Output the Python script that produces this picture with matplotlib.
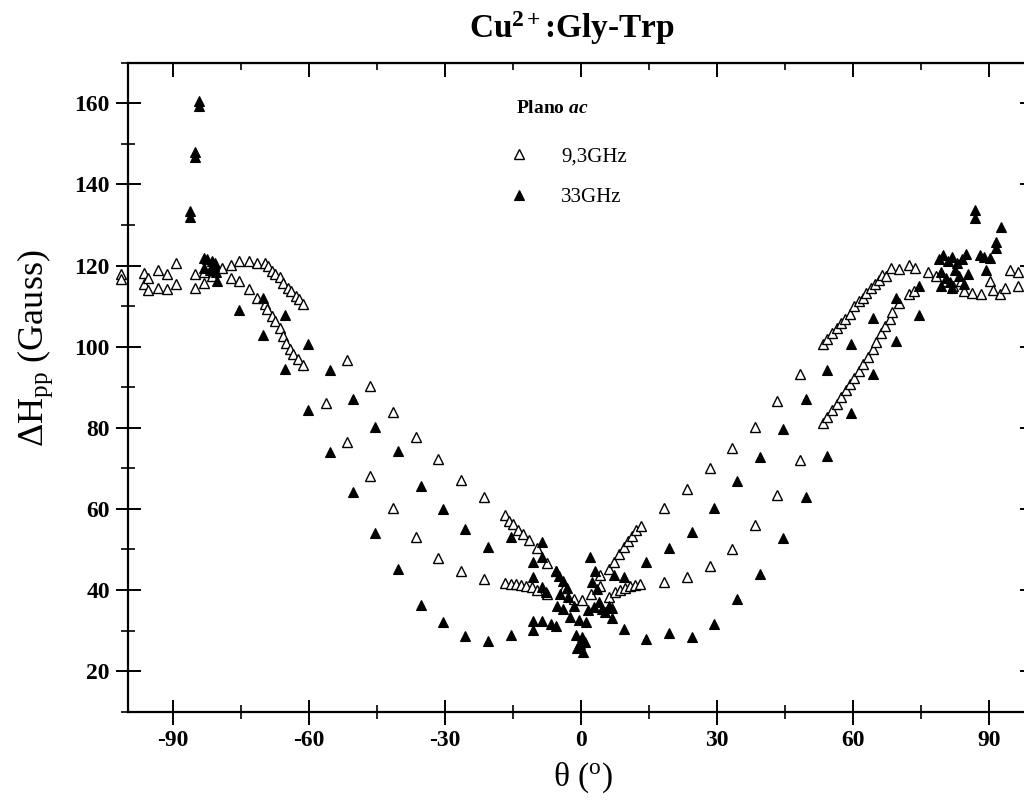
import numpy as np
import matplotlib
matplotlib.use("Agg")
import matplotlib.pyplot as plt
from matplotlib.ticker import MultipleLocator

plt.rcParams['font.family'] = ['Liberation Serif', 'DejaVu Serif']
plt.rcParams['mathtext.fontset'] = 'custom'
plt.rcParams['mathtext.rm'] = 'Liberation Serif'
plt.rcParams['mathtext.it'] = 'Liberation Serif:italic'
plt.rcParams['mathtext.bf'] = 'Liberation Serif:bold'
plt.rcParams['mathtext.bfit'] = 'Liberation Serif:italic:bold'

# 9,3 GHz line widths (open triangles), angle in degrees / width in Gauss
theta_x = [
    -101.5, -101.5,
    -96.4, -96.4, -95.5, -95.5, -93.4, -93.4, -91.5, -91.5, -89.3, -89.3,
    -85.3, -85.3, -83.3, -83.3, -81.5, -81.5, -79.3, -77.3, -77.3,
    -75.5, -75.5, -73.4, -73.4, -71.6, -71.6, -69.8, -69.8,
    # upper branch, -69 .. -61
    -69.1, -68.3, -67.6, -66.5, -65.8, -64.7, -64.0, -62.9, -62.2, -61.4,
    # lower branch, -69 .. -61
    -69.4, -68.3, -67.6, -66.5, -65.8, -65.1, -64.3, -63.6, -62.5, -61.4,
    # sparse angles
    -56.3, -51.6, -51.6, -46.5, -46.5, -41.4, -41.4, -36.4, -36.4,
    -31.5, -31.5, -26.6, -26.6, -21.5, -21.5,
    # around the minimum
    -16.7, -15.9, -15.0, -13.9, -12.7, -11.5, -9.7, -7.6, -5.6, -3.7, -1.6,
    -16.7, -15.5, -14.4, -13.3, -12.2, -10.9, -9.7, -7.6,
    0.2, 2.3, 4.3, 4.3,
    6.1, 7.2, 8.3, 9.4, 10.4, 11.2, 12.2, 13.3,
    6.2, 7.6, 8.7, 9.8, 10.9, 12.0, 13.1,
    18.4, 18.4, 23.4, 23.4, 28.4, 28.4, 33.4, 33.4, 38.4, 38.4,
    43.3, 43.3, 48.4, 48.4,
    # upper branch, 53 .. 74
    53.5, 54.4, 55.5, 56.4, 57.4, 58.3, 59.4, 60.3, 61.3, 62.2,
    63.0, 64.0, 64.8, 65.7, 66.4, 67.3, 68.4, 70.3, 72.3, 73.8,
    # lower branch, 53 .. 74
    53.5, 54.4, 55.5, 56.4, 57.4, 58.5, 59.4, 60.3, 61.3, 62.2,
    63.3, 64.4, 65.1, 66.2, 67.1, 68.1, 68.7, 70.3, 72.3, 73.6,
    # high angle group
    76.5, 78.4, 80.6, 82.1, 83.9, 84.5, 86.2, 88.4, 90.2, 91.0,
    92.4, 93.5, 94.6, 96.5, 96.5,
]
dh_x = [
    117.9, 116.7,
    118.2, 115.5, 117.0, 113.9, 118.8, 114.5, 117.8, 114.1, 120.7, 115.5,
    117.8, 114.4, 118.5, 115.8, 119.1, 117.4, 119.5, 120.1, 117.0,
    121.1, 116.2, 121.1, 114.1, 120.7, 112.1, 120.7, 110.4,
    119.9, 118.6, 117.8, 117.1, 115.7, 114.5, 113.7, 112.5, 111.7, 110.6,
    109.2, 107.6, 106.3, 104.7, 102.6, 101.0, 99.4, 98.1, 96.9, 95.5,
    86.0, 96.7, 76.6, 90.2, 68.0, 83.8, 60.2, 77.6, 53.0,
    72.3, 48.0, 67.1, 44.6, 62.9, 42.8,
    58.4, 57.1, 56.3, 54.8, 53.8, 52.3, 50.4, 46.6, 44.7, 40.4, 37.9,
    41.8, 41.5, 41.4, 41.2, 41.0, 40.8, 40.1, 38.9,
    37.5, 39.1, 43.6, 41.0,
    45.3, 46.9, 48.9, 50.6, 52.2, 53.4, 54.7, 55.9,
    38.3, 39.5, 40.1, 40.6, 40.9, 41.2, 41.4,
    60.2, 42.0, 64.9, 43.2, 70.0, 45.9, 74.9, 50.1, 80.3, 56.1,
    86.7, 63.5, 93.2, 72.1,
    100.7, 101.9, 103.4, 104.6, 105.8, 106.9, 108.0, 109.9, 111.2, 112.0,
    113.2, 114.5, 115.5, 116.5, 117.6, 117.3, 119.4, 119.2, 120.2, 119.4,
    81.1, 82.6, 84.4, 85.9, 87.6, 89.2, 90.7, 92.3, 94.0, 95.6,
    97.5, 99.3, 101.2, 103.4, 105.1, 106.7, 108.6, 110.8, 112.9, 113.7,
    118.5, 117.4, 116.2, 114.9, 116.3, 113.8, 113.3, 112.9, 116.2, 114.0,
    112.9, 114.5, 119.0, 118.3, 114.9,
]

# 33 GHz line widths (filled triangles)
theta_q = [
    -84.4, -84.4, -85.3, -85.3, -86.4, -86.4,
    -83.3, -82.5, -81.5, -80.7, -83.3, -82.0, -80.5, -81.0,
    -80.4, -75.5, -70.2, -70.2, -65.3, -65.3, -60.3, -60.3,
    -55.4, -55.4, -50.4, -50.4, -45.4, -45.4, -40.4, -40.4,
    -35.4, -35.4, -30.4, -30.4, -25.5, -25.5, -20.6, -20.6, -15.5, -15.5,
    # around the minimum
    -10.5, -10.5, -10.6, -10.6, -8.6, -8.6, -8.6, -7.8, -8.6, -6.6,
    -5.6, -5.6, -4.8, -4.0, -3.2, -4.6, -2.8, -5.2, -4.0, -2.4,
    -0.5, 1.2, -1.2, 0.2, -0.9, 0.5, -0.2, 0.9, -1.5, 1.5,
    2.0, 3.1, 2.5, 3.6, 3.9, 2.8, 4.6, 5.4, 6.2, 7.2,
    9.4, 6.8, 6.8, 9.4, 14.4, 14.4,
    19.5, 19.5, 24.5, 24.5, 29.3, 29.3, 34.5, 34.5, 39.5, 39.5,
    44.5, 44.5, 49.6, 49.6, 54.4, 54.4, 59.6, 59.6, 64.5, 64.5,
    69.6, 69.6, 74.6, 74.6,
    # high angle group
    79.1, 80.0, 81.0, 82.0, 83.0, 84.0, 85.0, 79.5, 80.5, 81.5,
    82.5, 83.5, 84.5, 85.5, 82.0, 79.5,
    86.9, 86.9, 92.6, 91.7, 91.7, 88.0, 90.2, 89.5, 89.0,
]
dh_q = [
    160.6, 159.4, 148.1, 146.7, 133.4, 132.0,
    121.8, 121.5, 121.0, 120.5, 119.5, 119.0, 118.5, 120.0,
    116.2, 109.0, 111.9, 102.9, 107.8, 94.4, 100.7, 84.4,
    94.2, 74.1, 87.1, 64.1, 80.3, 54.1, 74.2, 45.3,
    65.6, 36.2, 59.9, 32.0, 55.1, 28.7, 50.7, 27.4, 53.0, 28.9,
    46.9, 43.2, 32.3, 30.1, 51.8, 48.1, 40.7, 39.5, 32.4, 31.7,
    31.1, 44.8, 43.5, 42.2, 40.5, 39.0, 38.2, 36.0, 35.2, 33.4,
    32.5, 32.1, 29.0, 28.4, 25.6, 24.8, 26.8, 27.2, 36.0, 35.0,
    48.1, 44.8, 42.0, 40.2, 37.0, 35.8, 35.3, 34.5, 36.0, 43.6,
    43.2, 35.5, 33.0, 30.3, 46.9, 28.0,
    50.3, 29.3, 54.3, 28.4, 60.2, 31.7, 66.8, 37.9, 72.9, 44.0,
    79.8, 52.9, 87.2, 62.9, 94.2, 73.1, 100.6, 83.6, 107.1, 93.2,
    111.9, 101.4, 114.9, 107.8,
    121.5, 122.5, 121.0, 122.0, 120.5, 121.5, 122.8, 118.5, 117.0, 116.0,
    119.0, 117.5, 115.5, 118.0, 114.5, 115.0,
    133.8, 131.7, 129.4, 124.4, 125.8, 122.7, 121.9, 119.0, 122.0,
]

x_major = [-90, -60, -30, 0, 30, 60, 90]
y_major = [20, 40, 60, 80, 100, 120, 140, 160]

fig = plt.figure(figsize=(10.24, 8.07), dpi=100)
ax = fig.add_axes([0.125, 0.1181, 0.8848, 0.8042])

ax.plot(theta_x, dh_x, ls='none', marker='^', ms=7.5, mfc='white',
        mec='black', mew=1.0, clip_on=False, label='9,3GHz')
ax.plot(theta_q, dh_q, ls='none', marker='^', ms=7.5, mfc='black',
        mec='black', mew=0.8, clip_on=False, label='33GHz')

ax.set_xlim(-100, 100)
ax.set_ylim(10, 170)
ax.set_xticks(x_major)
ax.set_yticks(y_major)
ax.set_xticklabels([str(v) for v in x_major])
ax.xaxis.set_minor_locator(MultipleLocator(15))
ax.yaxis.set_minor_locator(MultipleLocator(10))
ax.tick_params(which='major', direction='inout', length=18, width=1.4,
               labelsize=17, pad=4)
ax.tick_params(which='minor', direction='inout', length=10, width=1.2)
for lab in ax.get_xticklabels() + ax.get_yticklabels():
    lab.set_fontweight('bold')
for sp in ax.spines.values():
    sp.set_linewidth(1.6)

# top and right axes carry inward ticks only
top = ax.secondary_xaxis('top')
top.set_xticks(x_major)
top.xaxis.set_minor_locator(MultipleLocator(15))
top.tick_params(which='major', direction='in', length=10, width=1.4,
                labeltop=False)
top.tick_params(which='minor', direction='in', length=5, width=1.2)
right = ax.secondary_yaxis('right')
right.set_yticks(y_major)
right.yaxis.set_minor_locator(MultipleLocator(10))
right.tick_params(which='major', direction='in', length=10, width=1.4,
                  labelright=False)
right.tick_params(which='minor', direction='in', length=5, width=1.2)

ax.legend(loc='upper left', bbox_to_anchor=(0.4205, 0.870), frameon=False,
          fontsize=15, handlelength=1.0, handletextpad=1.5, borderpad=0,
          labelspacing=1.0, borderaxespad=0)
ax.text(0.468, 0.930, 'Plano $\\mathbfit{ac}$', transform=ax.transAxes,
        ha='center', va='center', fontsize=14, fontweight='bold')

fig.text(572 / 1024, 1 - 28 / 807, 'Cu$^{\\mathbf{2+}}$:Gly-Trp',
         ha='center', va='center', fontsize=24, fontweight='bold')
fig.text(583 / 1024, 1 - 778 / 807, '\u03b8 ($^{\\rm o}$)',
         ha='center', va='center', fontsize=24)
fig.text(35 / 1024, 1 - 348 / 807, '\u0394H$_{\\rm pp}$ (Gauss)',
         ha='center', va='center', fontsize=26, rotation=90)

fig.savefig('out.png', dpi=100)
